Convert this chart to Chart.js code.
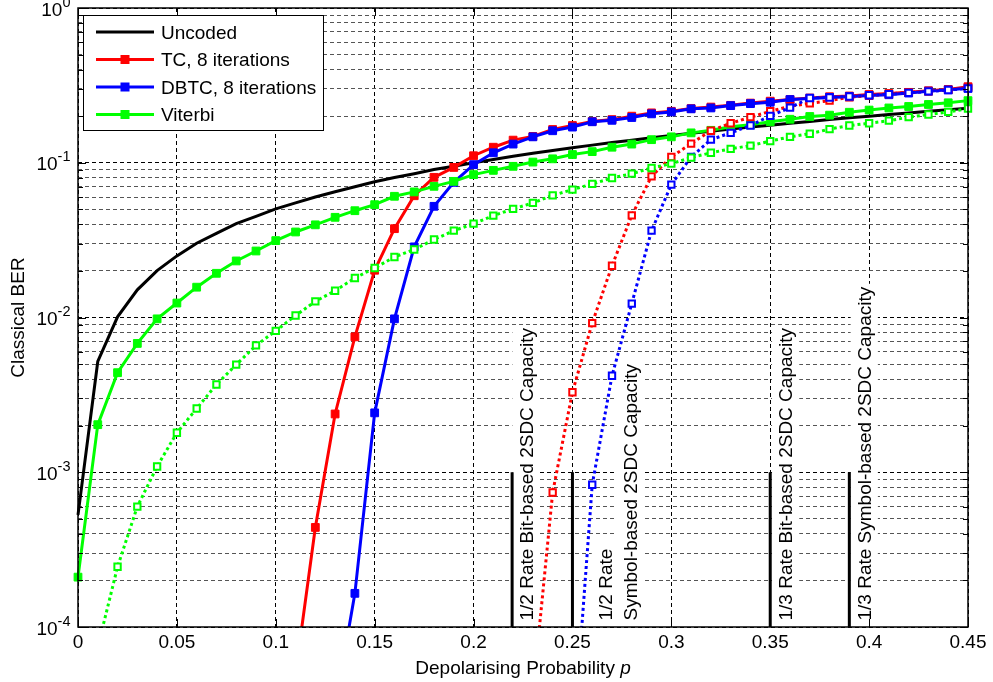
<!DOCTYPE html>
<html>
<head>
<meta charset="utf-8">
<title>Classical BER</title>
<script src="https://cdn.jsdelivr.net/npm/chart.js@4.4.1/dist/chart.umd.min.js"></script>
<style>
  html, body { margin: 0; padding: 0; background: #fff; }
  #wrap { position: relative; width: 993px; height: 682px; }
</style>
</head>
<body>
<div id="wrap"><canvas id="berChart"></canvas></div>
<script>
// DEPOLARISING PROBABILITY GRID SHARED BY ALL CURVES
const pValues = [0.00, 0.01, 0.02, 0.03, 0.04, 0.05, 0.06, 0.07, 0.08, 0.09,
  0.10, 0.11, 0.12, 0.13, 0.14, 0.15, 0.16, 0.17, 0.18, 0.19,
  0.20, 0.21, 0.22, 0.23, 0.24, 0.25, 0.26, 0.27, 0.28, 0.29,
  0.30, 0.31, 0.32, 0.33, 0.34, 0.35, 0.36, 0.37, 0.38, 0.39,
  0.40, 0.41, 0.42, 0.43, 0.44, 0.45]

// CLASSICAL BER PER CURVE (null = no point at that p)
const uncoded = [0.00053, 0.0052, 0.0101, 0.0151, 0.0201, 0.025, 0.0302, 0.035, 0.0404, 0.045,
  0.0503, 0.055, 0.0601, 0.065, 0.07, 0.0753, 0.0802, 0.085, 0.0905, 0.095,
  0.1, 0.105, 0.11, 0.115, 0.12, 0.125, 0.13, 0.135, 0.14, 0.145,
  0.15, 0.155, 0.16, 0.165, 0.17, 0.175, 0.18, 0.185, 0.19, 0.195,
  0.2, 0.205, 0.21, 0.215, 0.22, 0.225]
const tc8 = [null, null, null, null, null, null, null, null, null, null,
  null, 0.00005, 0.00044, 0.00238, 0.0075, 0.0202, 0.0375, 0.0612, 0.0805, 0.0933,
  0.111, 0.126, 0.14, 0.148, 0.164, 0.174, 0.185, 0.19, 0.2, 0.21,
  0.215, 0.224, 0.229, 0.235, 0.243, 0.25, 0.256, 0.262, 0.267, 0.27,
  0.276, 0.28, 0.285, 0.292, 0.297, 0.31]
const dbtc8 = [null, null, null, null, null, null, null, null, null, null,
  null, null, null, 0.00003, 0.000165, 0.00242, 0.0098, 0.0286, 0.0523, 0.0747,
  0.0972, 0.116, 0.132, 0.147, 0.161, 0.17, 0.184, 0.188, 0.196, 0.207,
  0.213, 0.223, 0.226, 0.234, 0.241, 0.246, 0.256, 0.26, 0.264, 0.267,
  0.272, 0.275, 0.282, 0.29, 0.296, 0.303]
const viterbi = [0.00021, 0.00203, 0.0044, 0.0068, 0.0098, 0.0124, 0.0157, 0.0193, 0.0232, 0.0269,
  0.0314, 0.0357, 0.0397, 0.0444, 0.049, 0.0536, 0.0607, 0.0648, 0.0704, 0.0758,
  0.0838, 0.0893, 0.0948, 0.101, 0.106, 0.113, 0.118, 0.126, 0.132, 0.141,
  0.147, 0.156, 0.162, 0.171, 0.176, 0.184, 0.191, 0.199, 0.203, 0.212,
  0.219, 0.226, 0.231, 0.238, 0.244, 0.252]
const tcDotted = [null, null, null, null, null, null, null, null, null, null,
  null, null, null, null, null, null, null, null, null, null,
  null, null, null, 0.000037, 0.00074, 0.00329, 0.0092, 0.0216, 0.0457, 0.0817,
  0.109, 0.133, 0.161, 0.18, 0.197, 0.215, 0.232, 0.242, 0.252, 0.265,
  0.272, 0.278, 0.285, 0.29, 0.297, 0.305]
const dbtcDotted = [null, null, null, null, null, null, null, null, null, null,
  null, null, null, null, null, null, null, null, null, null,
  null, null, null, null, null, 0.000015, 0.00083, 0.0042, 0.0123, 0.0364,
  0.0722, 0.109, 0.141, 0.156, 0.174, 0.201, 0.227, 0.262, 0.264, 0.268,
  0.273, 0.277, 0.283, 0.289, 0.295, 0.302]
const viterbiDotted = [null, 0.000074, 0.000245, 0.0006, 0.00109, 0.0018, 0.00258, 0.00369, 0.00496, 0.0066,
  0.0082, 0.0103, 0.0127, 0.0149, 0.018, 0.0209, 0.0246, 0.0275, 0.0319, 0.0364,
  0.0404, 0.0455, 0.0503, 0.055, 0.0616, 0.067, 0.073, 0.0797, 0.085, 0.0925,
  0.0987, 0.108, 0.116, 0.123, 0.129, 0.138, 0.147, 0.154, 0.165, 0.174,
  0.18, 0.187, 0.197, 0.205, 0.213, 0.224]

// 2SDC CAPACITY MARKERS
const capacityP = [0.2195, 0.25, 0.35, 0.39]
const capacityBer = [0.0001, 0.001]
const capacityLabels = [
  ['1/2 Rate Bit-based 2SDC Capacity'],
  ['1/2 Rate', 'Symbol-based 2SDC Capacity'],
  ['1/3 Rate Bit-based 2SDC Capacity'],
  ['1/3 Rate Symbol-based 2SDC Capacity']
]

// AXIS TICKS
const xTicks = [0, 0.05, 0.1, 0.15, 0.2, 0.25, 0.3, 0.35, 0.4, 0.45]
const xTickLabels = ['0', '0.05', '0.1', '0.15', '0.2', '0.25', '0.3', '0.35', '0.4', '0.45']
const yDecades = [-4, -3, -2, -1, 0]
const yTickExponents = ['-4', '-3', '-2', '-1', '0']

const legendLabels = ['Uncoded', 'TC, 8 iterations', 'DBTC, 8 iterations', 'Viterbi']

const FONT = '"Liberation Sans", Arial, Helvetica, sans-serif'
const TEXT_SIZE = 19
const SUP_SIZE = 14.5
const font = (size, style) => (style ? style + ' ' : '') + size + 'px ' + FONT

const toPoints = (ys) => pValues.map((p, i) => ({ x: p, y: ys[i] }))

const plotClip = { left: 10, top: 10, right: 10, bottom: 0 }

function solidSeries(label, ys, color, withMarkers, order) {
  return {
    label: label,
    data: toPoints(ys),
    borderColor: color,
    backgroundColor: color,
    borderWidth: 3,
    pointStyle: 'rect',
    pointRadius: withMarkers ? 5.5 : 0,
    pointBorderWidth: 1,
    pointBackgroundColor: color,
    pointBorderColor: color,
    clip: plotClip,
    order: order
  }
}

function dottedSeries(label, ys, color, order) {
  return {
    label: label,
    data: toPoints(ys),
    borderColor: color,
    borderWidth: 3,
    borderDash: [3, 3],
    borderCapStyle: 'butt',
    pointStyle: 'rect',
    pointRadius: 4.5,
    pointBorderWidth: 2,
    pointBackgroundColor: '#fff',
    pointBorderColor: color,
    clip: plotClip,
    order: order
  }
}

const datasets = [
  solidSeries('Uncoded', uncoded, '#000000', false, 20),
  solidSeries('TC, 8 iterations', tc8, '#ff0000', true, 19),
  solidSeries('DBTC, 8 iterations', dbtc8, '#0000ff', true, 18),
  solidSeries('Viterbi', viterbi, '#00ff00', true, 17),
  dottedSeries('TC dotted', tcDotted, '#ff0000', 16),
  dottedSeries('DBTC dotted', dbtcDotted, '#0000ff', 15),
  dottedSeries('Viterbi dotted', viterbiDotted, '#00ff00', 14)
]
capacityP.forEach((p, i) => {
  datasets.push({
    label: 'capacity ' + i,
    data: capacityBer.map(b => ({ x: p, y: b })),
    borderColor: '#000',
    borderWidth: 3,
    pointRadius: 0,
    clip: plotClip,
    order: 10 - i
  })
})

const isDecade = (v) => Math.abs(Math.log10(v) - Math.round(Math.log10(v))) < 1e-6

// LOG TICKS 1..9 PER DECADE
function logTicks() {
  const ticks = []
  for (let e = yDecades[0]; e < yDecades[yDecades.length - 1]; e++) {
    for (let m = 1; m < 10; m++) ticks.push({ value: m * Math.pow(10, e), major: m === 1 })
  }
  ticks.push({ value: Math.pow(10, yDecades[yDecades.length - 1]), major: true })
  return ticks
}

// AXES BOX, TICKS, LABELS, LEGEND AND CAPACITY TEXT
const berDecorations = {
  id: 'berDecorations',
  beforeDatasetsDraw(chart) {
    const ctx = chart.ctx
    const xs = chart.scales.x
    const shifts = [[20.5], [39.5, 64.5], [22], [21.5]]
    const bottom = 620.5
    ctx.save()
    ctx.font = font(TEXT_SIZE)
    capacityP.forEach((p, i) => {
      const lineX = xs.getPixelForValue(p)
      capacityLabels[i].forEach((txt, j) => {
        const w = ctx.measureText(txt).width
        ctx.save()
        ctx.translate(lineX + shifts[i][j], bottom)
        ctx.rotate(-Math.PI / 2)
        ctx.fillStyle = '#fff'
        ctx.fillRect(-3, -TEXT_SIZE * 0.905 - 3, w + 6, TEXT_SIZE * 1.117 + 6)
        ctx.fillStyle = '#000'
        ctx.textAlign = 'left'
        ctx.textBaseline = 'alphabetic'
        ctx.fillText(txt, 0, 0)
        ctx.restore()
      })
    })
    ctx.restore()
  },
  afterDraw(chart) {
    const ctx = chart.ctx
    const area = chart.chartArea
    const xs = chart.scales.x
    const ys = chart.scales.y
    ctx.save()

    // axes box with inward ticks
    ctx.strokeStyle = '#000'
    ctx.lineWidth = 1.5
    ctx.strokeRect(area.left, area.top, area.right - area.left, area.bottom - area.top)
    ctx.lineWidth = 1
    ctx.beginPath()
    xTicks.forEach(v => {
      const px = Math.round(xs.getPixelForValue(v)) + 0.5
      ctx.moveTo(px, area.bottom); ctx.lineTo(px, area.bottom - 8)
      ctx.moveTo(px, area.top); ctx.lineTo(px, area.top + 8)
    })
    logTicks().forEach(t => {
      const py = Math.round(ys.getPixelForValue(t.value)) + 0.5
      const len = t.major ? 8 : 5
      ctx.moveTo(area.left, py); ctx.lineTo(area.left + len, py)
      ctx.moveTo(area.right, py); ctx.lineTo(area.right - len, py)
    })
    ctx.stroke()

    // tick labels
    ctx.fillStyle = '#000'
    ctx.textBaseline = 'alphabetic'
    ctx.font = font(TEXT_SIZE)
    ctx.textAlign = 'center'
    xTicks.forEach((v, i) => {
      ctx.fillText(xTickLabels[i], xs.getPixelForValue(v), area.bottom + 21)
    })
    ctx.textAlign = 'right'
    yDecades.forEach((e, i) => {
      const py = ys.getPixelForValue(Math.pow(10, e))
      const right = area.left - 7.5
      ctx.font = font(SUP_SIZE)
      const supW = ctx.measureText(yTickExponents[i]).width
      ctx.fillText(yTickExponents[i], right, py - 1.5)
      ctx.font = font(TEXT_SIZE)
      ctx.fillText('10', right - supW, py + 7.5)
    })

    // axis titles
    ctx.font = font(TEXT_SIZE)
    const xTitle = 'Depolarising Probability '
    const tW = ctx.measureText(xTitle).width
    ctx.font = font(TEXT_SIZE, 'italic')
    const pW = ctx.measureText('p').width
    const startX = (area.left + area.right) / 2 - (tW + pW) / 2
    ctx.textAlign = 'left'
    ctx.font = font(TEXT_SIZE)
    ctx.fillText(xTitle, startX, 673.5)
    ctx.font = font(TEXT_SIZE, 'italic')
    ctx.fillText('p', startX + tW, 673.5)

    ctx.save()
    ctx.translate(24, (area.top + area.bottom) / 2)
    ctx.rotate(-Math.PI / 2)
    ctx.font = font(TEXT_SIZE)
    ctx.textAlign = 'center'
    ctx.fillText('Classical BER', 0, 0)
    ctx.restore()

    // legend
    const lg = { left: 83.5, top: 15.5, width: 240, height: 115 }
    const rowY = [32, 59.5, 87, 114.5]
    ctx.fillStyle = '#fff'
    ctx.fillRect(lg.left, lg.top, lg.width, lg.height)
    ctx.strokeStyle = '#000'
    ctx.lineWidth = 1
    ctx.strokeRect(lg.left, lg.top, lg.width, lg.height)
    legendLabels.forEach((txt, i) => {
      const ds = chart.data.datasets[i]
      const y = rowY[i]
      ctx.strokeStyle = ds.borderColor
      ctx.lineWidth = ds.borderWidth
      ctx.beginPath()
      ctx.moveTo(96, y); ctx.lineTo(154, y)
      ctx.stroke()
      if (ds.pointRadius > 0) {
        ctx.fillStyle = ds.pointBackgroundColor
        ctx.fillRect(125 - 4.5, y - 4.5, 9, 9)
      }
      ctx.fillStyle = '#000'
      ctx.font = font(TEXT_SIZE)
      ctx.textAlign = 'left'
      ctx.fillText(txt, 161, y + 6.8)
    })
    ctx.restore()
  }
}

// BER VS DEPOLARISING PROBABILITY CHART
const ctx = document.getElementById('berChart').getContext('2d')
const berChart = new Chart(ctx, {
  type: 'line',
  data: { datasets: datasets },
  options: {
    responsive: true,
    maintainAspectRatio: false,
    animation: false,
    devicePixelRatio: 1,
    events: [],
    layout: { padding: { top: 8, right: 25, left: 0, bottom: 0 } },
    plugins: { legend: { display: false }, tooltip: { enabled: false } },
    scales: {
      x: {
        type: 'linear',
        min: 0,
        max: 0.45,
        afterBuildTicks: (s) => { s.ticks = xTicks.map(v => ({ value: v })) },
        afterFit: (s) => { s.height = 55 },
        ticks: { display: false },
        grid: { color: '#000', lineWidth: 1, drawTicks: false },
        border: { display: false, dash: [4, 3] }
      },
      y: {
        type: 'logarithmic',
        min: 0.0001,
        max: 1,
        afterBuildTicks: (s) => { s.ticks = logTicks() },
        afterFit: (s) => { s.width = 78 },
        ticks: { display: false },
        grid: {
          color: (c) => (c.tick && isDecade(c.tick.value)) ? '#000' : '#555',
          lineWidth: 1,
          drawTicks: false
        },
        border: { display: false, dash: [4, 3] }
      }
    }
  },
  plugins: [berDecorations]
})
</script>
</body>
</html>
